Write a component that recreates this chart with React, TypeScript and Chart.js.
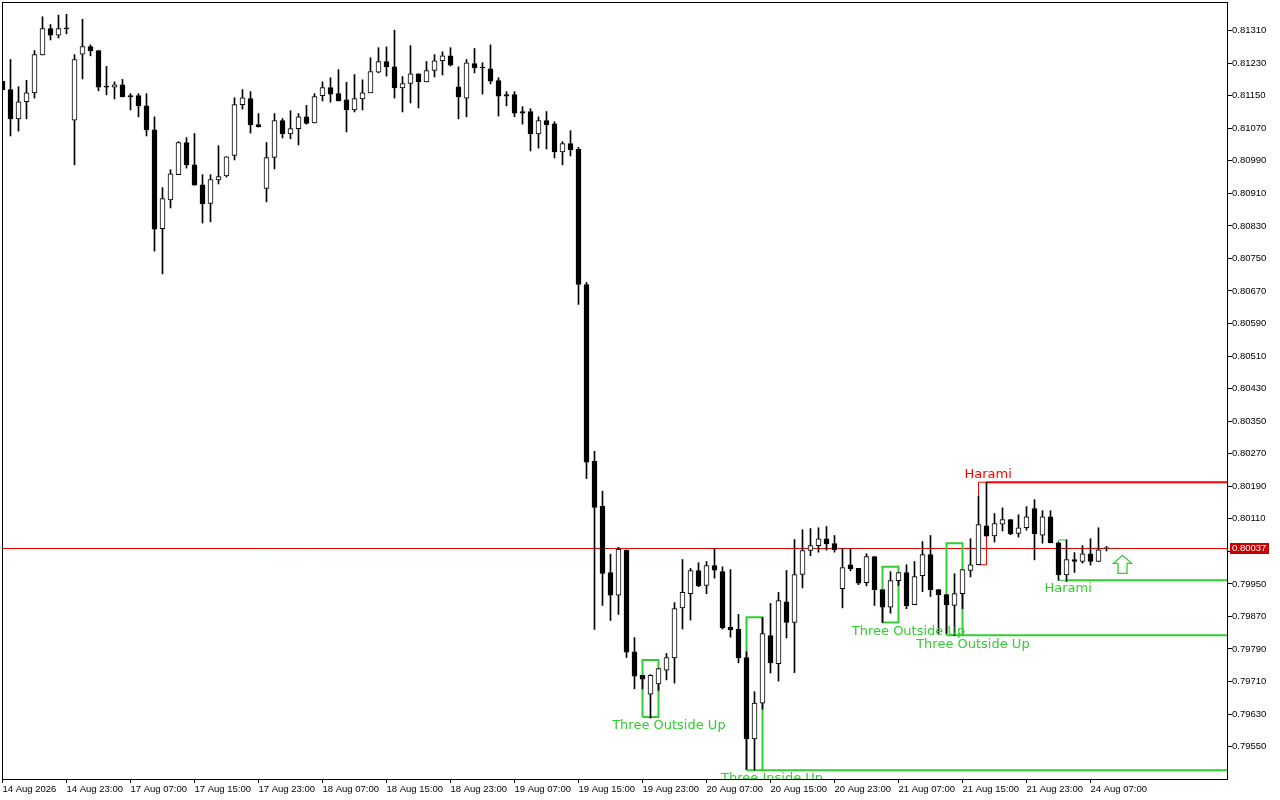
import React, { useEffect, useRef } from "react";
import { Chart, registerables } from "chart.js";

Chart.register(...registerables);

const opens = [0.81185,0.81165,0.81093,0.81135,0.81157,0.81250,0.81315,0.81299,0.81317,0.81090,0.81252,0.81271,0.81261,0.81172,0.81171,0.81177,0.81150,0.81150,0.81125,0.81066,0.80823,0.80894,0.80956,0.81035,0.80980,0.80931,0.80885,0.80943,0.80953,0.81003,0.81128,0.81143,0.81079,0.80922,0.80998,0.81089,0.81056,0.81069,
0.81098,0.81083,0.81150,0.81170,0.81155,0.81140,0.81115,0.81142,0.81157,0.81208,0.81234,0.81221,0.81169,0.81180,0.81204,0.81184,0.81212,0.81236,0.81248,0.81172,0.81144,0.81229,0.81219,0.81216,0.81187,0.81153,0.81153,0.81111,0.81111,0.81056,0.81089,0.81081,0.81012,0.81032,
0.81018,0.80686,0.80251,0.80141,0.79978,0.79922,0.80033,0.79783,0.79725,0.79679,0.79704,0.79738,0.79768,0.79891,0.79926,0.79983,0.79946,0.79995,0.79980,0.79843,0.79838,0.79769,0.79569,0.79657,0.79823,0.79754,0.79906,0.79855,0.79973,0.80032,0.80044,0.80061,0.80049,
0.79938,0.79997,0.79988,0.79953,0.80017,0.79936,0.79893,0.79958,0.79978,0.79899,0.79970,0.80022,0.79936,0.79924,0.79897,0.79926,0.79983,0.79997,0.80093,0.80068,0.80097,0.80108,0.80074,0.80088,0.80135,0.80070,0.80115,0.80051,0.79972,0.80010,0.80005,0.80024,0.80005,0.80037];

const highs = [0.81185,0.81239,0.81172,0.81188,0.81261,0.81344,0.81325,0.81348,0.81350,0.81251,0.81338,0.81275,0.81261,0.81222,0.81184,0.81190,0.81155,0.81155,0.81155,0.81098,0.80924,0.80968,0.81037,0.81047,0.81057,0.80956,0.80956,0.81027,0.81000,0.81145,0.81165,0.81160,0.81106,0.81035,0.81106,0.81094,0.81113,0.81106,
0.81126,0.81155,0.81184,0.81194,0.81214,0.81183,0.81202,0.81189,0.81243,0.81268,0.81270,0.81311,0.81197,0.81273,0.81204,0.81234,0.81251,0.81258,0.81268,0.81221,0.81239,0.81266,0.81231,0.81275,0.81194,0.81160,0.81160,0.81123,0.81118,0.81098,0.81111,0.81086,0.81037,0.81064,
0.81023,0.80691,0.80276,0.80178,0.80023,0.80040,0.80033,0.79818,0.79725,0.79727,0.79742,0.79779,0.79904,0.80010,0.79988,0.80002,0.80005,0.80037,0.79992,0.79985,0.79875,0.79783,0.79685,0.79867,0.79902,0.79929,0.79983,0.80059,0.80083,0.80086,0.80088,0.80091,0.80069,
0.80037,0.80037,0.79988,0.80024,0.80017,0.79936,0.79980,0.79978,0.79997,0.80005,0.80054,0.80069,0.79936,0.79924,0.79975,0.79985,0.80061,0.80165,0.80200,0.80123,0.80137,0.80108,0.80120,0.80140,0.80157,0.80130,0.80130,0.80052,0.80058,0.80027,0.80044,0.80061,0.80088,0.80042];

const lows = [0.81164,0.81051,0.81063,0.81093,0.81144,0.81250,0.81287,0.81292,0.81302,0.80980,0.81191,0.81248,0.81162,0.81152,0.81142,0.81147,0.81115,0.81098,0.81051,0.80768,0.80712,0.80874,0.80956,0.80972,0.80930,0.80837,0.80840,0.80933,0.80950,0.80992,0.81117,0.81058,0.81073,0.80889,0.80970,0.81046,0.81044,0.81029,
0.81080,0.81083,0.81137,0.81134,0.81137,0.81061,0.81110,0.81115,0.81157,0.81206,0.81198,0.81144,0.81110,0.81132,0.81120,0.81184,0.81196,0.81201,0.81223,0.81093,0.81098,0.81206,0.81154,0.81179,0.81100,0.81125,0.81098,0.81080,0.81014,0.81021,0.81019,0.80997,0.80980,0.81002,
0.80637,0.80209,0.79838,0.79897,0.79860,0.79875,0.79769,0.79692,0.79692,0.79620,0.79688,0.79714,0.79706,0.79839,0.79861,0.79943,0.79926,0.79964,0.79839,0.79819,0.79756,0.79494,0.79492,0.79642,0.79731,0.79711,0.79817,0.79732,0.79940,0.80019,0.80028,0.80033,0.80028,
0.79891,0.79982,0.79948,0.79945,0.79897,0.79855,0.79878,0.79946,0.79889,0.79899,0.79931,0.79919,0.79828,0.79828,0.79823,0.79889,0.79967,0.79997,0.80067,0.80053,0.80080,0.80071,0.80065,0.80082,0.80009,0.80050,0.80051,0.79959,0.79956,0.79978,0.80001,0.79996,0.80005,0.80031];

const closes = [0.81164,0.81093,0.81135,0.81157,0.81251,0.81315,0.81299,0.81315,0.81314,0.81239,0.81271,0.81260,0.81171,0.81171,0.81177,0.81147,0.81147,0.81125,0.81066,0.80822,0.80897,0.80958,0.81035,0.80980,0.80930,0.80884,0.80944,0.80951,0.81000,0.81128,0.81145,0.81078,0.81073,0.80998,0.81089,0.81056,0.81069,0.81098,
0.81082,0.81148,0.81170,0.81154,0.81137,0.81115,0.81143,0.81157,0.81209,0.81234,0.81221,0.81169,0.81180,0.81204,0.81184,0.81212,0.81236,0.81248,0.81225,0.81147,0.81231,0.81218,0.81218,0.81186,0.81149,0.81149,0.81107,0.81107,0.81056,0.81089,0.81078,0.81012,0.81032,0.81017,
0.80686,0.80249,0.80138,0.79976,0.79922,0.80035,0.79782,0.79723,0.79716,0.79725,0.79742,0.79769,0.79889,0.79929,0.79983,0.79945,0.79995,0.79984,0.79842,0.79837,0.79768,0.79569,0.79657,0.79828,0.79756,0.79909,0.79855,0.79973,0.80032,0.80044,0.80061,0.80048,0.80034,
0.79990,0.79987,0.79952,0.80017,0.79935,0.79893,0.79958,0.79978,0.79896,0.79968,0.80022,0.79935,0.79923,0.79898,0.79926,0.79985,0.79997,0.80096,0.80067,0.80098,0.80108,0.80073,0.80088,0.80115,0.80073,0.80115,0.80051,0.79972,0.80010,0.80005,0.80024,0.80005,0.80034,0.80037];

const xTickBars = [0,8,16,24,32,40,48,56,64,72,80,88,96,104,112,120,128,136];
const xTickLabels = ["14 Aug 2026","14 Aug 23:00","17 Aug 07:00","17 Aug 15:00","17 Aug 23:00","18 Aug 07:00","18 Aug 15:00","18 Aug 23:00","19 Aug 07:00","19 Aug 15:00","19 Aug 23:00","20 Aug 07:00","20 Aug 15:00","20 Aug 23:00","21 Aug 07:00","21 Aug 15:00","21 Aug 23:00","24 Aug 07:00"];
const yTickValues = [0.7955,0.7963,0.7971,0.7979,0.7987,0.7995,0.8003,0.8011,0.8019,0.8027,0.8035,0.8043,0.8051,0.8059,0.8067,0.8075,0.8083,0.8091,0.8099,0.8107,0.8115,0.8123,0.8131];

const currentPrice = 0.80037;

const GREEN = "#32cd32";
const RED = "#ff0000";

const patternNames = ["Three Outside Up","Three Inside Up","Three Outside Up","Three Outside Up","Harami","Harami"];
const patternColors = [GREEN,GREEN,GREEN,GREEN,RED,GREEN];
const patternLeft = [80,93,110,118,122,132];
const patternRight = [82,95,112,120,123,133];
const patternTop = [0.79763,0.79868,0.79992,0.80050,0.80200,0.80058];
const patternBottom = [0.79623,0.79492,0.79855,0.79824,0.79997,0.79959];
const patternWidth = [2,2,2,2,1,1];
const rayPrice = [null,0.79492,null,0.79824,0.80200,0.79959];
const labelBar = [83.3,96.2,113.25,121.3,123.2,133.2];
const labelPrice = [0.79602,0.79472,0.79833,0.79801,0.80219,0.79939];

const arrowBar = 140;
const arrowPrice = 0.79998;

const BAR_MIN = -0.0625;
const BAR_MAX = 153.0625;
const PRICE_MAX = 0.813803;
const PRICE_MIN = 0.794704;
const AXIS_FONT = { family: "'Liberation Sans'", size: 9.5 };

const overlay = {
  id: "overlay",
  afterDatasetsDraw(chart: any) {
    const { ctx, chartArea: a, scales } = chart;
    const x = scales.x, y = scales.y;
    ctx.save();
    ctx.beginPath();
    ctx.rect(a.left, a.top, a.right - a.left, a.bottom - a.top);
    ctx.clip();
    ctx.font = "13px 'DejaVu Sans'";
    ctx.textAlign = "center";
    ctx.textBaseline = "middle";
    patternNames.forEach((name, i) => {
      ctx.fillStyle = patternColors[i];
      ctx.fillText(name, x.getPixelForValue(labelBar[i]), y.getPixelForValue(labelPrice[i]));
    });
    // up arrow glyph anchored at its data position
    const ax = Math.round(x.getPixelForValue(arrowBar)) - 0.5;
    const ay = y.getPixelForValue(arrowPrice);
    ctx.strokeStyle = GREEN;
    ctx.lineWidth = 1.3;
    ctx.beginPath();
    ctx.moveTo(ax, ay - 9);
    ctx.lineTo(ax + 9, ay - 1);
    ctx.lineTo(ax + 4.5, ay - 1);
    ctx.lineTo(ax + 4.5, ay + 9);
    ctx.lineTo(ax - 4.5, ay + 9);
    ctx.lineTo(ax - 4.5, ay - 1);
    ctx.lineTo(ax - 9, ay - 1);
    ctx.closePath();
    ctx.stroke();
    ctx.restore();
  },
  afterDraw(chart: any) {
    const { ctx, chartArea: a, scales } = chart;
    ctx.save();
    ctx.strokeStyle = "#000";
    ctx.lineWidth = 1;
    ctx.strokeRect(a.left + 0.5, a.top + 0.5, a.right - a.left, a.bottom - a.top);
    const py = Math.round(scales.y.getPixelForValue(currentPrice));
    ctx.fillStyle = "#c80000";
    ctx.fillRect(1230, py - 5, 39, 11);
    ctx.fillStyle = "#fff";
    ctx.font = `${AXIS_FONT.size}px ${AXIS_FONT.family}`;
    ctx.textAlign = "left";
    ctx.textBaseline = "middle";
    ctx.fillText(currentPrice.toFixed(5), 1232, py + 0.5);
    ctx.restore();
  },
};

export default function App() {
  const ref = useRef<HTMLCanvasElement | null>(null);
  useEffect(() => {
    const lineBase = { type: "line", pointRadius: 0, tension: 0, fill: false, order: 3 };
    const rects = patternNames.map((_, i) => ({
      ...lineBase,
      borderColor: patternColors[i],
      borderWidth: patternWidth[i],
      data: [
        { x: patternLeft[i], y: patternBottom[i] },
        { x: patternLeft[i], y: patternTop[i] },
        { x: patternRight[i], y: patternTop[i] },
        { x: patternRight[i], y: patternBottom[i] },
        { x: patternLeft[i], y: patternBottom[i] },
      ],
    }));
    const rays = patternNames
      .map((_, i) => i)
      .filter((i) => rayPrice[i] !== null)
      .map((i) => ({
        ...lineBase,
        borderColor: patternColors[i],
        borderWidth: 2,
        data: [
          { x: patternRight[i], y: rayPrice[i] },
          { x: BAR_MAX, y: rayPrice[i] },
        ],
      }));
    const priceLine = {
      ...lineBase,
      borderColor: "#e00000",
      borderWidth: 1,
      data: [
        { x: BAR_MIN, y: currentPrice },
        { x: BAR_MAX, y: currentPrice },
      ],
    };
    const noPad = (s: any) => {
      s.paddingLeft = 0;
      s.paddingRight = 0;
      s.paddingTop = 0;
      s.paddingBottom = 0;
    };
    const chart = new Chart(ref.current as HTMLCanvasElement, {
      type: "bar",
      data: {
        datasets: [
          {
            type: "bar",
            order: 1,
            grouped: false,
            barThickness: 5,
            borderWidth: 1,
            borderColor: "#000",
            borderSkipped: false,
            minBarLength: 1,
            backgroundColor: opens.map((o, i) => (closes[i] >= o ? "#fff" : "#000")),
            data: opens.map((o, i) => ({ x: i, y: [o, closes[i]] })),
          },
          {
            type: "bar",
            order: 2,
            grouped: false,
            barThickness: 1,
            backgroundColor: "#000",
            data: lows.map((l, i) => ({ x: i, y: [l, highs[i]] })),
          },
          ...rects,
          ...rays,
          priceLine,
        ] as any,
      },
      plugins: [overlay],
      options: {
        responsive: false,
        animation: false,
        devicePixelRatio: 1,
        layout: { padding: { left: 2, top: 2, right: 0, bottom: 0 } },
        plugins: { legend: { display: false }, tooltip: { enabled: false } },
        events: [],
        scales: {
          x: {
            type: "linear",
            min: BAR_MIN,
            max: BAR_MAX,
            offset: false,
            border: { display: false },
            grid: { offset: false, drawOnChartArea: false, drawTicks: true, tickLength: 4, color: "#000", tickColor: "#000" },
            afterFit: (s: any) => { s.height = 21; noPad(s); },
            afterBuildTicks: (s: any) => { s.ticks = xTickBars.map((v) => ({ value: v })); },
            ticks: {
              autoSkip: false,
              maxRotation: 0,
              minRotation: 0,
              align: "start",
              padding: 1,
              color: "#000",
              font: AXIS_FONT,
              callback: (_v: any, i: number) => xTickLabels[i],
            },
          },
          y: {
            type: "linear",
            position: "right",
            min: PRICE_MIN,
            max: PRICE_MAX,
            border: { display: false },
            grid: { drawOnChartArea: false, drawTicks: true, tickLength: 5, color: "#000", tickColor: "#000" },
            afterFit: (s: any) => { s.width = 53; noPad(s); },
            afterBuildTicks: (s: any) => { s.ticks = yTickValues.map((v) => ({ value: v })); },
            ticks: {
              autoSkip: false,
              padding: 0,
              color: "#000",
              font: AXIS_FONT,
              callback: (v: any) => Number(v).toFixed(5),
            },
          },
        },
      } as any,
    });
    return () => chart.destroy();
  }, []);
  return (
    <canvas
      ref={ref}
      width={1280}
      height={800}
      style={{ position: "fixed", left: 0, top: 0, width: 1280, height: 800, background: "#fff" }}
    />
  );
}
